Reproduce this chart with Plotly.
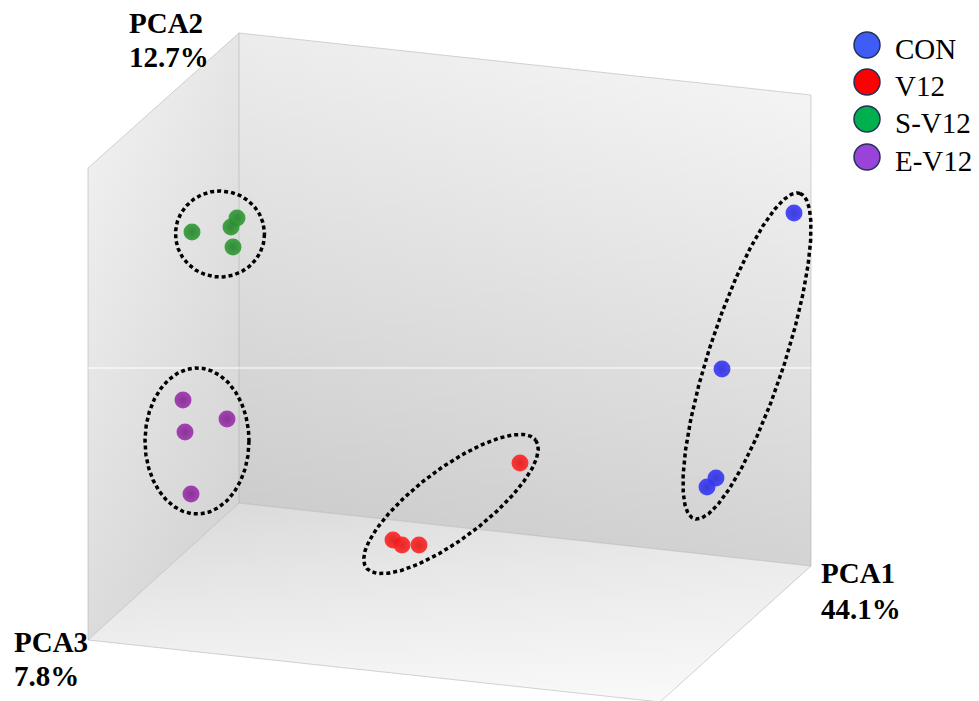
import numpy as np
import plotly.graph_objects as go

W, H = 979, 701

# ---------------- data (scores as seen in the projected 3D view) ----------------
groups = ["CON", "V12", "S-V12", "E-V12"]
legend_colors = ["#3f5cf6", "#ff0000", "#00b04f", "#9a43d9"]
sphere_colors = ["#3a3af8", "#ff2626", "#2f9d35", "#9e32ae"]
sphere_edges = ["#2a2ad8", "#e01414", "#237f29", "#7f228e"]

con_x = [794, 722, 716, 707]
con_y = [213, 369, 478, 487]
v12_x = [520, 402, 393, 419]
v12_y = [463, 545, 540, 545]
sv12_x = [192, 237, 231, 233]
sv12_y = [232, 218, 227, 247]
ev12_x = [183, 227, 185, 191]
ev12_y = [400, 419, 432, 494]

axis_title_names = ["PCA1", "PCA2", "PCA3"]
axis_title_values = ["44.1%", "12.7%", "7.8%"]

series_x = [con_x, v12_x, sv12_x, ev12_x]
series_y = [con_y, v12_y, sv12_y, ev12_y]

FONT = "Liberation Serif, Times New Roman, serif"

# ---------------- decoration geometry ----------------
back_wall = ([239, 811, 811, 239], [33, 95, 566, 503])
left_wall = ([88, 239, 239, 88], [168, 33, 503, 640])
floor = ([88, 239, 811, 660], [640, 503, 566, 702])

# group ellipses: center x, center y, semi-major, semi-minor, angle (deg)
ellipses = [
    (747, 356, 171, 38, 72),
    (451, 504, 106, 35, 37),
    (220, 234, 44.5, 43, 0),
    (197, 441, 52, 73, 0),
]

fig = go.Figure()


def wall(poly, gtype, start, stop, c0, c1):
    xs, ys = poly
    fig.add_trace(go.Scatter(
        x=xs + [xs[0]], y=ys + [ys[0]], mode="lines", line=dict(width=0),
        fill="toself",
        fillgradient=dict(type=gtype, start=start, stop=stop,
                          colorscale=[[0, c0], [1, c1]]),
        hoverinfo="skip", showlegend=False))


# back wall: horizontal then vertical darkening
wall(back_wall, "horizontal", 239, 811, "#ececec", "#f8f8f8")
wall(back_wall, "vertical", 33, 566, "rgba(0,0,0,0)", "rgba(0,0,0,0.15)")
# left wall
wall(left_wall, "horizontal", 88, 239, "#f4f4f4", "#e6e6e6")
wall(left_wall, "vertical", 33, 640, "rgba(0,0,0,0)", "rgba(0,0,0,0.10)")
# floor
wall(floor, "vertical", 503, 702, "#d8d8d8", "#f7f7f7")
wall(floor, "horizontal", 88, 811, "rgba(255,255,255,0)", "rgba(255,255,255,0.35)")

# faint box edges
edges = [
    ([88, 239], [168, 33]), ([239, 811], [33, 95]), ([811, 811], [95, 566]),
    ([239, 239], [33, 503]), ([239, 88], [503, 640]), ([239, 811], [503, 566]),
    ([88, 88], [168, 640]), ([88, 660], [640, 702]), ([811, 660], [566, 702]),
]
for ex, ey in edges:
    fig.add_trace(go.Scatter(x=ex, y=ey, mode="lines",
                             line=dict(color="rgba(170,170,170,0.5)", width=1),
                             hoverinfo="skip", showlegend=False))
# faint light line across walls
fig.add_trace(go.Scatter(x=[88, 811], y=[368, 368], mode="lines",
                         line=dict(color="rgba(255,255,255,0.7)", width=1.5),
                         hoverinfo="skip", showlegend=False))

# dotted ellipses
t = np.linspace(0, 2 * np.pi, 400)
for cx, cy, a, b, ang in ellipses:
    th = np.deg2rad(ang)
    ux, uy = np.cos(th), -np.sin(th)
    vx, vy = np.sin(th), np.cos(th)
    ex = cx + a * np.cos(t) * ux + b * np.sin(t) * vx
    ey = cy + a * np.cos(t) * uy + b * np.sin(t) * vy
    fig.add_trace(go.Scatter(x=ex, y=ey, mode="lines",
                             line=dict(color="black", width=3.5, dash="4px,3px"),
                             hoverinfo="skip", showlegend=False))

# points
for name, xs, ys, c, ce in zip(groups, series_x, series_y, sphere_colors, sphere_edges):
    fig.add_trace(go.Scatter(
        x=xs, y=ys, mode="markers", name=name, showlegend=False,
        marker=dict(size=17, color=c, opacity=0.9, line=dict(width=0),
                    gradient=dict(type="radial", color=ce))))

# legend (drawn manually for large symbols)
leg_y = [45, 82, 119, 157]
for name, c, ly in zip(groups, legend_colors, leg_y):
    fig.add_shape(type="circle", x0=854, x1=880, y0=ly - 13, y1=ly + 13,
                  fillcolor=c, line=dict(color="#22335a", width=1.5))
    fig.add_annotation(x=893, y=ly + 4, text=name, showarrow=False,
                       xanchor="left", yanchor="middle",
                       font=dict(family=FONT, size=29, color="black"))

# axis titles
title_pos = [(819, 573, 609), (127, 23, 57), (12, 642, 676)]
for nm, val, (tx, ty1, ty2) in zip(axis_title_names, axis_title_values, title_pos):
    for txt, ty in ((nm, ty1), (val, ty2)):
        fig.add_annotation(x=tx, y=ty, text="<b>%s</b>" % txt, showarrow=False,
                           xanchor="left", yanchor="middle",
                           font=dict(family=FONT, size=29, color="black"))

fig.update_layout(
    width=W, height=H, margin=dict(l=0, r=0, t=0, b=0),
    paper_bgcolor="white", plot_bgcolor="white",
    xaxis=dict(range=[0, W], visible=False, fixedrange=True),
    yaxis=dict(range=[H, 0], visible=False, fixedrange=True),
    showlegend=False,
)

fig.write_html(
    "out.html",
    config={"displayModeBar": False},
    post_script="document.body.style.margin='0';document.body.style.overflow='hidden';",
)
